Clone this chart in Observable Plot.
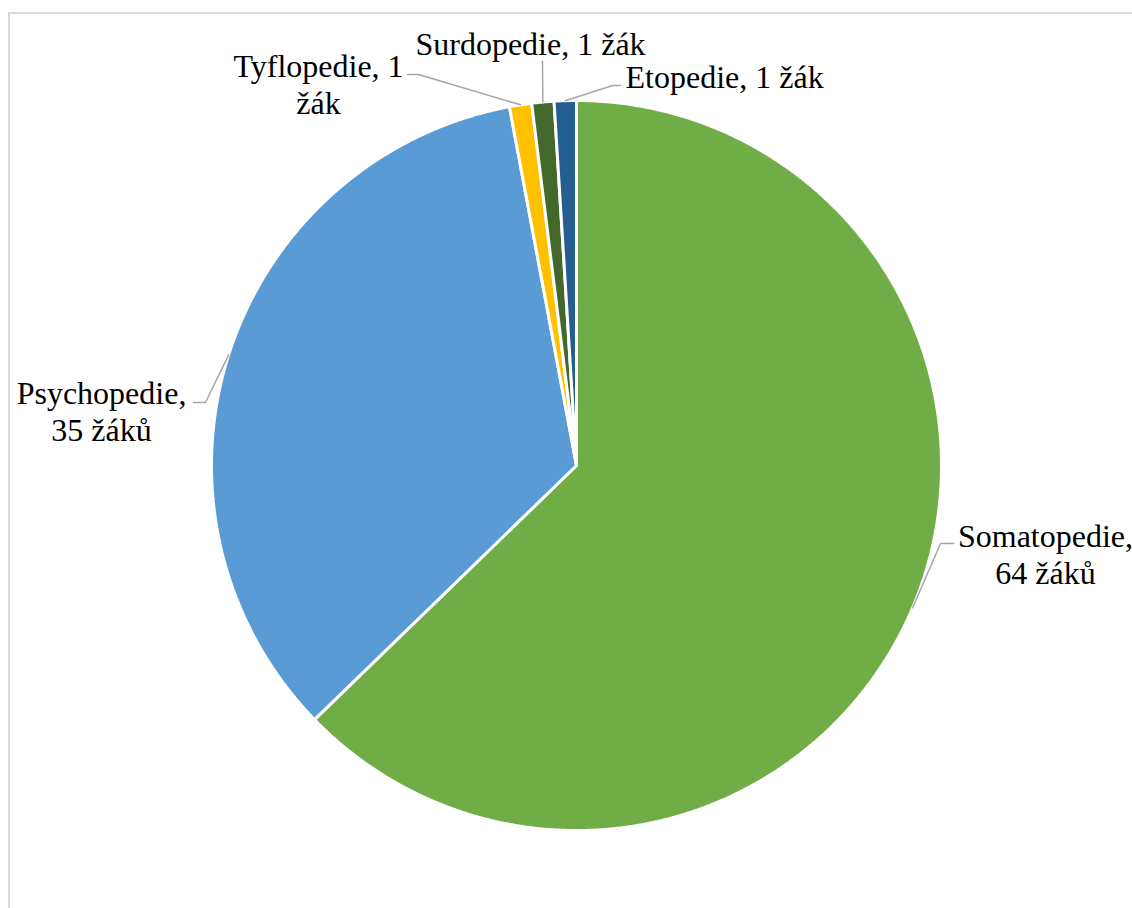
<!DOCTYPE html>
<html>
<head>
<meta charset="utf-8">
<script src="https://cdn.jsdelivr.net/npm/d3@7"></script>
<script src="https://cdn.jsdelivr.net/npm/@observablehq/plot@0.6"></script>
<style>
  html, body { margin: 0; padding: 0; background: #fff; overflow: hidden; width: 1132px; height: 908px; }
  #frame { position: absolute; left: 8px; top: 12px; width: 1200px; height: 1000px; border: 2px solid #d9d9d9; box-sizing: border-box; }
  #chart { position: absolute; left: 0; top: 0; }
</style>
</head>
<body>
<div id="frame"></div>
<div id="chart"></div>
<script>
// ---- data ----
const categories = ["Somatopedie", "Psychopedie", "Tyflopedie", "Surdopedie", "Etopedie"];
const values = [64, 35, 1, 1, 1];
const labelTexts = ["Somatopedie,\n64 žáků", "Psychopedie,\n35 žáků", "Tyflopedie, 1\nžák", "Surdopedie, 1 žák", "Etopedie, 1 žák"];
const colors = ["#70ad47", "#5b9bd5", "#ffc000", "#43682b", "#255e91"];

// ---- layout (pixel units, pie centre at origin) ----
const W = 1132, H = 908, CX = 576, CY = 465, R = 365;
const px = (x) => x - CX;          // page x -> data x
const py = (y) => CY - y;          // page y -> data y (up)
const labelPos = [
  {x: 1045, y: 553, anchor: "middle"},
  {x: 101, y: 410, anchor: "middle"},
  {x: 318, y: 83, anchor: "middle"},
  {x: 530, y: 43, anchor: "middle"},
  {x: 625, y: 76, anchor: "start"}
];
const leaderEnds = [
  [[940, 543], [953, 543]],
  [[205, 402], [193, 402]],
  [[418, 74], [407, 74]],
  [[542, 61]],
  [[612, 85], [620, 85]]
];

const pie = d3.pie().sort(null).value(d => d.value);
const arcs = pie(categories.map((c, i) => ({category: c, value: values[i]})));

// slice polygons
const slicePts = [];
arcs.forEach(a => {
  const c = a.data.category;
  slicePts.push({category: c, x: 0, y: 0});
  const n = Math.max(4, Math.ceil((a.endAngle - a.startAngle) / 0.005));
  for (let k = 0; k <= n; k++) {
    const t = a.startAngle + (a.endAngle - a.startAngle) * k / n;
    slicePts.push({category: c, x: R * Math.sin(t), y: R * Math.cos(t)});
  }
});

// leader lines
const leaderPts = [];
arcs.forEach((a, i) => {
  const m = (a.startAngle + a.endAngle) / 2;
  leaderPts.push({k: i, x: R * Math.sin(m), y: R * Math.cos(m)});
  leaderEnds[i].forEach(p => leaderPts.push({k: i, x: px(p[0]), y: py(p[1])}));
});

const labels = categories.map((c, i) => ({
  text: labelTexts[i], x: px(labelPos[i].x), y: py(labelPos[i].y), anchor: labelPos[i].anchor
}));

const fontOpts = {fontFamily: "Liberation Serif, Times New Roman, serif", fontSize: 32, lineHeight: 1.15, fill: "#000"};

const chart = Plot.plot({
  width: W, height: H, margin: 0,
  x: {domain: [-CX, W - CX], axis: null},
  y: {domain: [CY - H, CY], axis: null},
  color: {domain: categories, range: colors},
  marks: [
    Plot.line(slicePts, {x: "x", y: "y", z: "category", fill: "category", stroke: "#fff", strokeWidth: 3, strokeLinejoin: "miter", curve: "linear-closed"}),
    Plot.line(leaderPts, {x: "x", y: "y", z: "k", stroke: "#a6a6a6", strokeWidth: 1.5}),
    Plot.text(labels.filter(d => d.anchor === "middle"), {x: "x", y: "y", text: "text", textAnchor: "middle", lineAnchor: "middle", ...fontOpts}),
    Plot.text(labels.filter(d => d.anchor === "start"), {x: "x", y: "y", text: "text", textAnchor: "start", lineAnchor: "middle", ...fontOpts})
  ]
});
chart.style.background = "transparent";
document.getElementById("chart").appendChild(chart);
</script>
</body>
</html>
